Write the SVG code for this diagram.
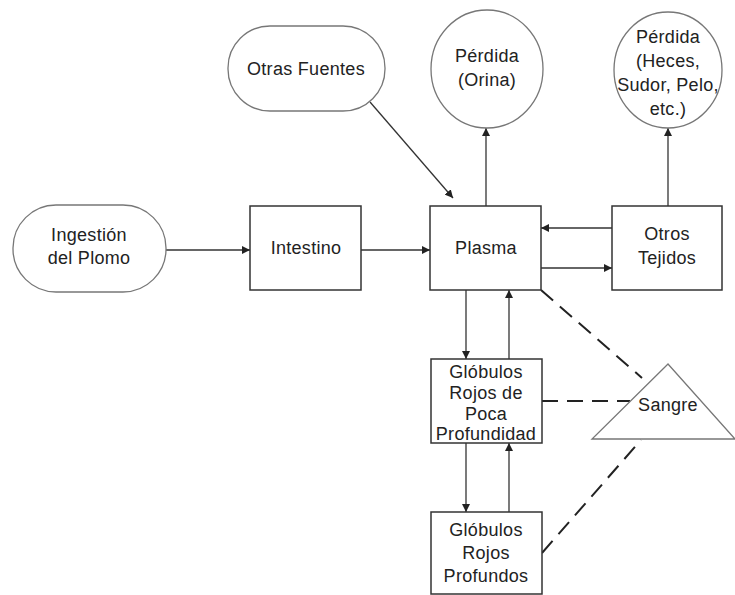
<svg xmlns="http://www.w3.org/2000/svg" width="735" height="595" viewBox="0 0 735 595">
  <defs>
    <marker id="arrow" viewBox="0 0 10 10" refX="10" refY="5" markerWidth="8" markerHeight="8" markerUnits="userSpaceOnUse" orient="auto">
      <path d="M0,0 L10,5 L0,10 z" fill="#222"/>
    </marker>
    <style>
      .box { fill: #fff; stroke: #333; stroke-width: 1.5; }
      .soft { fill: #fff; stroke: #777; stroke-width: 1.3; }
      .lbl { font-family: "Liberation Sans", Arial, sans-serif; font-size: 18px; letter-spacing: 0.3px; fill: #222; text-anchor: middle; }
      .conn { fill: none; stroke: #333; stroke-width: 1.3; }
      .arr { marker-end: url(#arrow); }
      .dash { fill: none; stroke: #222; stroke-width: 2; stroke-dasharray: 16 9; }
    </style>
  </defs>
  <rect width="735" height="595" fill="#fff"/>

  <g id="connectors">
    <line class="conn arr" x1="370" y1="102" x2="453" y2="198"/>
    <line class="conn arr" x1="486" y1="206" x2="486" y2="128"/>
    <line class="conn arr" x1="668" y1="206" x2="668" y2="128"/>
    <line class="conn arr" x1="166" y1="250" x2="250" y2="250"/>
    <line class="conn arr" x1="361" y1="250" x2="430" y2="250"/>
    <line class="conn arr" x1="612" y1="228" x2="541" y2="228"/>
    <line class="conn arr" x1="541" y1="268" x2="612" y2="268"/>
    <line class="conn arr" x1="466" y1="290" x2="466" y2="359"/>
    <line class="conn arr" x1="509" y1="359" x2="509" y2="290"/>
    <line class="conn arr" x1="466" y1="443" x2="466" y2="512"/>
    <line class="conn arr" x1="509" y1="512" x2="509" y2="443"/>
    <line class="dash" x1="541" y1="290" x2="642" y2="378"/>
    <line class="dash" x1="542" y1="401" x2="630" y2="401"/>
    <line class="dash" x1="542" y1="553" x2="641" y2="440"/>
  </g>

  <g id="otras-fuentes">
    <rect class="soft" x="228" y="26" width="157" height="85" rx="42" ry="42"/>
    <text class="lbl" x="306" y="75">Otras Fuentes</text>
  </g>

  <g id="perdida-orina">
    <ellipse class="soft" cx="487" cy="69" rx="56" ry="59"/>
    <text class="lbl" x="487" y="62">Pérdida</text>
    <text class="lbl" x="487" y="86">(Orina)</text>
  </g>

  <g id="perdida-heces">
    <ellipse class="soft" cx="668" cy="70" rx="54" ry="58"/>
    <text class="lbl" x="668" y="43">Pérdida</text>
    <text class="lbl" x="668" y="67">(Heces,</text>
    <text class="lbl" x="668" y="91">Sudor, Pelo,</text>
    <text class="lbl" x="668" y="115">etc.)</text>
  </g>

  <g id="ingestion">
    <rect class="soft" x="13" y="205" width="153" height="87" rx="43" ry="43"/>
    <text class="lbl" x="89" y="241">Ingestión</text>
    <text class="lbl" x="89" y="264">del Plomo</text>
  </g>

  <g id="intestino">
    <rect class="box" x="250" y="206" width="111" height="84"/>
    <text class="lbl" x="306" y="254">Intestino</text>
  </g>

  <g id="plasma">
    <rect class="box" x="430" y="206" width="111" height="84"/>
    <text class="lbl" x="486" y="254">Plasma</text>
  </g>

  <g id="otros-tejidos">
    <rect class="box" x="612" y="206" width="110" height="84"/>
    <text class="lbl" x="667" y="240">Otros</text>
    <text class="lbl" x="667" y="264">Tejidos</text>
  </g>

  <g id="globulos-poca">
    <rect class="box" x="431" y="359" width="111" height="84"/>
    <text class="lbl" x="486" y="378">Glóbulos</text>
    <text class="lbl" x="486" y="399">Rojos de</text>
    <text class="lbl" x="486" y="420">Poca</text>
    <text class="lbl" x="486" y="440">Profundidad</text>
  </g>

  <g id="globulos-profundos">
    <rect class="box" x="431" y="512" width="111" height="82"/>
    <text class="lbl" x="486" y="536">Glóbulos</text>
    <text class="lbl" x="486" y="559">Rojos</text>
    <text class="lbl" x="486" y="582">Profundos</text>
  </g>

  <g id="sangre">
    <polygon class="soft" points="668,364 592,439 735,439"/>
    <text class="lbl" x="668" y="411">Sangre</text>
  </g>
</svg>
